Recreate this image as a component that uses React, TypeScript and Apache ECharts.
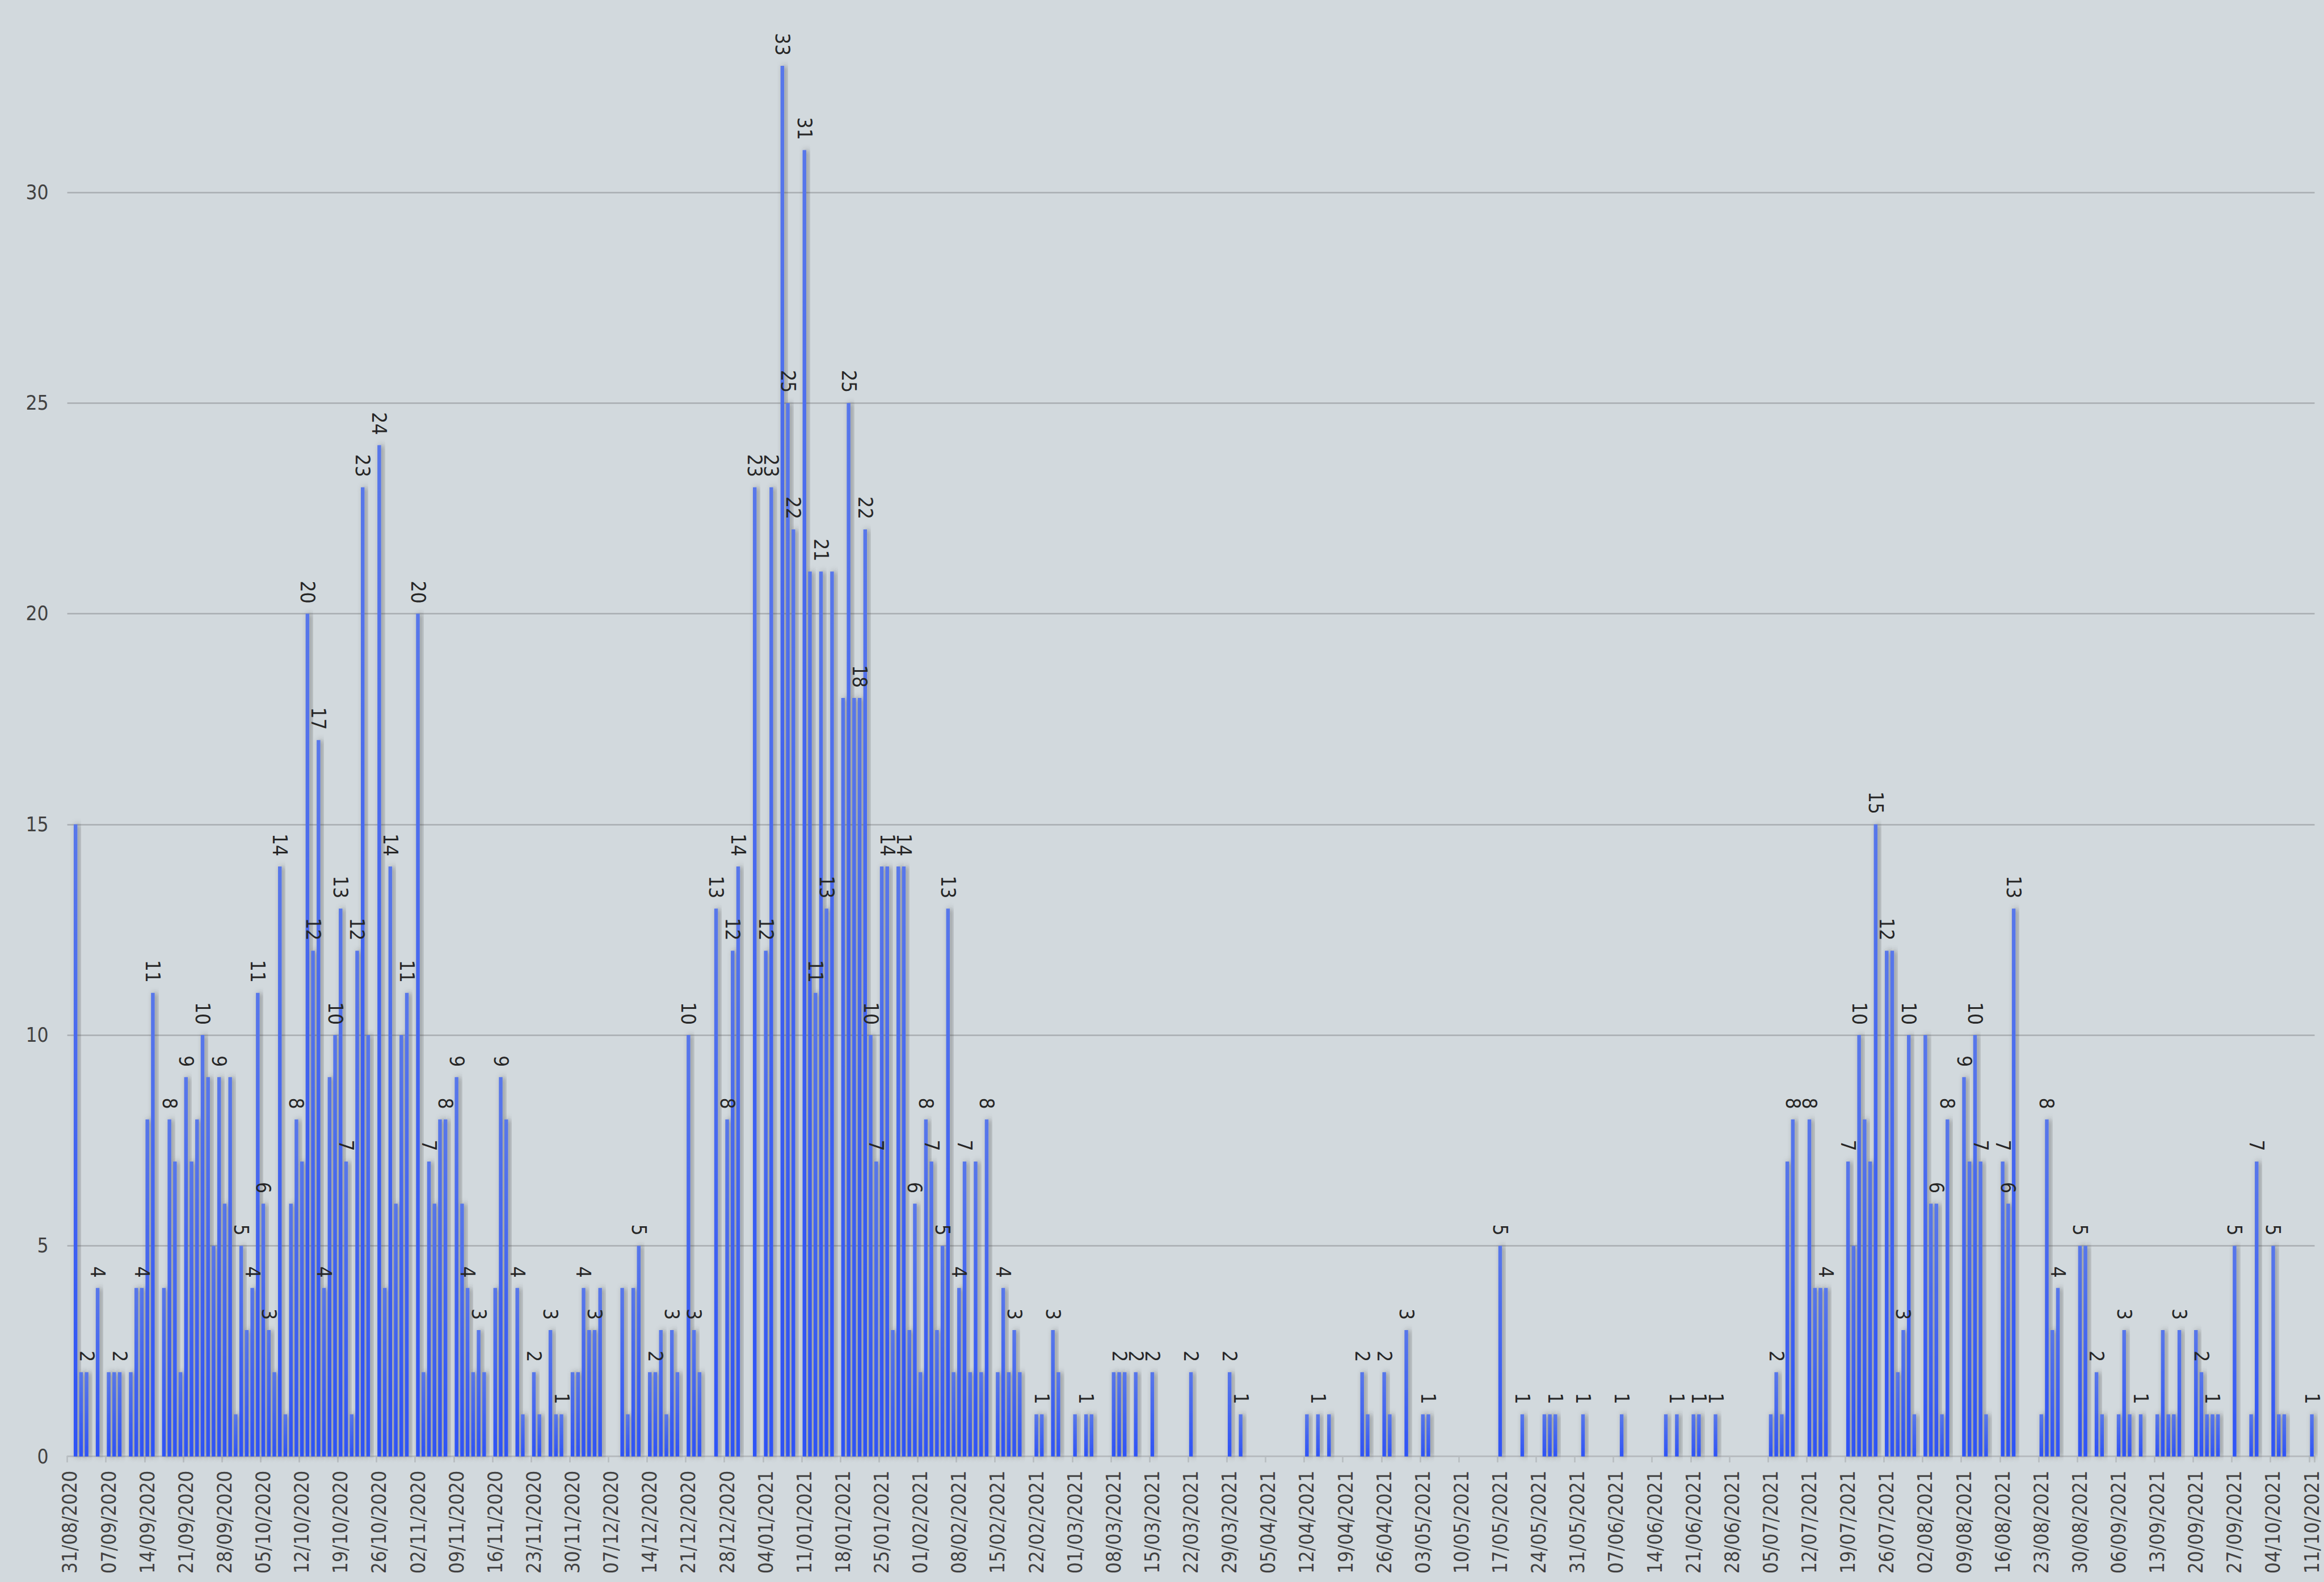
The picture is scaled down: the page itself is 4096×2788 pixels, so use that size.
import React, { useEffect, useRef } from "react";
import * as echarts from "echarts";

// ---- data -------------------------------------------------------------
// First day of the x axis and number of daily categories (31/08/2020 .. 11/10/2021)
const startDate = { year: 2020, month: 8, day: 31 };
const dayCount = 407;

// Daily values, one row per week starting Monday 31/08/2020
const cases = [
  0, 15, 2, 2, 0, 4, 0,
  2, 2, 2, 0, 2, 4, 4,
  8, 11, 0, 4, 8, 7, 2,
  9, 7, 8, 10, 9, 5, 9,
  6, 9, 1, 5, 3, 4, 11,
  6, 3, 2, 14, 1, 6, 8,
  7, 20, 12, 17, 4, 9, 10,
  13, 7, 1, 12, 23, 10, 0,
  24, 4, 14, 6, 10, 11, 0,
  20, 2, 7, 6, 8, 8, 0,
  9, 6, 4, 2, 3, 2, 0,
  4, 9, 8, 0, 4, 1, 0,
  2, 1, 0, 3, 1, 1, 0,
  2, 2, 4, 3, 3, 4, 0,
  0, 0, 4, 1, 4, 5, 0,
  2, 2, 3, 1, 3, 2, 0,
  10, 3, 2, 0, 0, 13, 0,
  8, 12, 14, 0, 0, 23, 0,
  12, 23, 0, 33, 25, 22, 0,
  31, 21, 11, 21, 13, 21, 0,
  18, 25, 18, 18, 22, 10, 7,
  14, 14, 3, 14, 14, 3, 6,
  2, 8, 7, 3, 5, 13, 2,
  4, 7, 2, 7, 2, 8, 0,
  2, 4, 2, 3, 2, 0, 0,
  1, 1, 0, 3, 2, 0, 0,
  1, 0, 1, 1, 0, 0, 0,
  2, 2, 2, 0, 2, 0, 0,
  2, 0, 0, 0, 0, 0, 0,
  2, 0, 0, 0, 0, 0, 0,
  2, 0, 1, 0, 0, 0, 0,
  0, 0, 0, 0, 0, 0, 0,
  1, 0, 1, 0, 1, 0, 0,
  0, 0, 0, 2, 1, 0, 0,
  2, 1, 0, 0, 3, 0, 0,
  1, 1, 0, 0, 0, 0, 0,
  0, 0, 0, 0, 0, 0, 0,
  5, 0, 0, 0, 1, 0, 0,
  0, 1, 1, 1, 0, 0, 0,
  0, 1, 0, 0, 0, 0, 0,
  0, 1, 0, 0, 0, 0, 0,
  0, 0, 1, 0, 1, 0, 0,
  1, 1, 0, 0, 1, 0, 0,
  0, 0, 0, 0, 0, 0, 0,
  1, 2, 1, 7, 8, 0, 0,
  8, 4, 4, 4, 0, 0, 0,
  7, 5, 10, 8, 7, 15, 0,
  12, 12, 2, 3, 10, 1, 0,
  10, 6, 6, 1, 8, 0, 0,
  9, 7, 10, 7, 1, 0, 0,
  7, 6, 13, 0, 0, 0, 0,
  1, 8, 3, 4, 0, 0, 0,
  5, 5, 0, 2, 1, 0, 0,
  1, 3, 1, 0, 1, 0, 0,
  1, 3, 1, 1, 3, 0, 0,
  3, 2, 1, 1, 1, 0, 0,
  5, 0, 0, 1, 7, 0, 0,
  5, 1, 1, 0, 0, 0, 0,
  1,
];

// Day indices whose value label is shown in the reference
const labelledDays = [
  3, 5, 9, 13, 15, 18, 21, 24, 27, 31, 33, 34, 35, 36, 38, 41, 43, 44, 45, 46,
  48, 49, 50, 52, 53, 56, 58, 61, 63, 65, 68, 70, 72, 74, 78, 81, 84, 87, 89,
  93, 95, 103, 106, 109, 112, 113, 117, 119, 120, 121, 124, 126, 127, 129, 130,
  131, 133, 135, 136, 137, 141, 143, 144, 145, 146, 148, 151, 153, 155, 156,
  158, 159, 161, 162, 166, 169, 171, 176, 178, 184, 190, 193, 196, 203, 210,
  212, 226, 234, 238, 242, 246, 259, 263, 269, 274, 281, 291, 295, 298, 309,
  312, 315, 318, 322, 324, 327, 329, 332, 333, 338, 340, 343, 345, 346, 350,
  351, 352, 358, 360, 364, 367, 372, 375, 382, 386, 388, 392, 396, 399, 406,
];

// Value axis range
const yMin = 0;
const yMax = 35;
const yStep = 5;

// Label every 7th day
const labelEvery = 7;

function pad(n: number) {
  return n < 10 ? "0" + n : String(n);
}

function buildCategories(): string[] {
  const out: string[] = [];
  const t0 = Date.UTC(startDate.year, startDate.month - 1, startDate.day);
  for (let i = 0; i < dayCount; i++) {
    const d = new Date(t0 + i * 86400000);
    out.push(
      pad(d.getUTCDate()) + "/" + pad(d.getUTCMonth() + 1) + "/" + d.getUTCFullYear()
    );
  }
  return out;
}

const categories = buildCategories();

// ---- chart ------------------------------------------------------------
const S = 0.812;
const FONT = "'DejaVu Sans Condensed', 'DejaVu Sans', sans-serif";

export default function App() {
  const ref = useRef<HTMLDivElement>(null);

  useEffect(() => {
    if (!ref.current) return;
    const chart = echarts.init(ref.current, null, { renderer: "svg" });
    const labelled = new Set(labelledDays);
    const seriesData = cases.map((v, i) =>
      labelled.has(i) ? { value: v, label: { show: true } } : { value: v }
    );

    chart.setOption({
      animation: false,
      backgroundColor: "#d2d9dd",
      grid: {
        left: 146 * S,
        right: 4096 - 5024 * S,
        top: -40 * S,
        bottom: 2788 - 3161 * S,
        containLabel: false,
        outerBoundsMode: "none",
      },
      xAxis: {
        type: "category",
        data: categories,
        boundaryGap: true,
        axisLine: { show: true, lineStyle: { color: "#b8bdc1", width: 2.6 } },
        axisTick: {
          show: true,
          interval: labelEvery - 1,
          length: 10.5,
          lineStyle: { color: "#b8bdc1", width: 2.6 },
        },
        axisLabel: {
          interval: labelEvery - 1,
          rotate: 90,
          margin: 25,
          fontSize: 35,
          fontFamily: FONT,
          color: "#424242",
        },
        splitLine: { show: false },
      },
      yAxis: {
        type: "value",
        min: yMin,
        max: yMax,
        interval: yStep,
        axisLine: { show: false },
        axisTick: { show: false },
        axisLabel: {
          margin: 33,
          fontSize: 35,
          fontFamily: FONT,
          color: "#424242",
          showMaxLabel: false,
        },
        splitLine: { show: true, lineStyle: { color: "#a8adb1", width: 2.6 } },
      },
      series: [
        {
          type: "bar",
          data: seriesData,
          barWidth: "66%",
          itemStyle: {
            color: new echarts.graphic.LinearGradient(0, 0, 0, 1, [
              { offset: 0, color: "#5877ea" },
              { offset: 1, color: "#2e53f6" },
            ]),
            shadowColor: "rgba(60,60,60,0.55)",
            shadowBlur: 10,
            shadowOffsetX: 4,
          },
          label: {
            show: false,
            position: "top",
            distance: 18,
            rotate: -90,
            align: "right",
            verticalAlign: "middle",
            fontSize: 35,
            fontFamily: FONT,
            color: "#262626",
          },
        },
      ],
    });

    return () => chart.dispose();
  }, []);

  return (
    <div
      ref={ref}
      style={{ position: "fixed", left: 0, top: 0, width: 4096, height: 2788 }}
    />
  );
}
